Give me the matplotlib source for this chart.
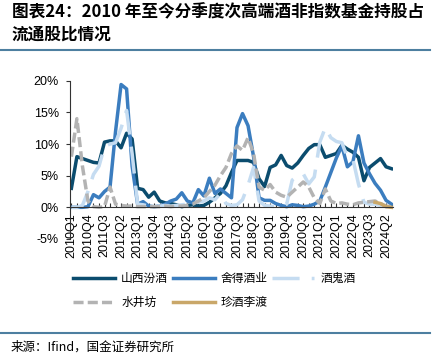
import numpy as np
import matplotlib.pyplot as plt
from matplotlib.lines import Line2D

# quarters 2010Q1 .. 2024Q3
quarters = [f"{y}Q{q}" for y in range(2010, 2025) for q in range(1, 5)][:59]

# fund holdings as % of free float
fenjiu = [3.0, 8.0, 7.7, 7.4, 7.1, 7.0, 10.3, 10.5, 10.5, 9.4, 11.7, 10.8,
          3.0, 2.8, 1.6, 2.4, 1.0, 0.7, 0.6, 0.4, 0.1, 0.3, 0.4, 0.2,
          0.3, 0.8, 1.5, 2.2, 3.4, 5.5, 7.4, 7.4, 7.4, 7.1, 4.5, 3.3,
          6.3, 6.7, 8.2, 6.6, 6.2, 7.0, 8.2, 9.3, 9.9, 9.9, 7.9, 8.2,
          8.5, 9.8, 9.2, 8.7, 7.9, 4.2, 6.3, 7.0, 7.7, 6.4, 6.1]
shede = [0.0, 0.0, 0.0, 0.1, 2.0, 1.5, 2.5, 3.2, 12.0, 19.4, 18.7, 6.5,
         0.5, 0.9, 0.2, 0.1, 0.2, 0.5, 1.0, 1.3, 2.3, 1.0, 0.7, 2.8,
         1.8, 4.6, 2.2, 2.9, 2.2, 1.5, 12.6, 14.8, 12.9, 8.0, 1.5, 1.1,
         1.1, 0.6, 0.3, 0.1, 0.4, 0.3, 0.1, 0.2, 0.5, 1.0, 3.2, 5.5,
         7.8, 9.7, 6.4, 7.2, 11.3, 7.0, 5.3, 3.8, 2.7, 1.1, 0.5]
jiugui = [0.0, 0.0, 0.3, 2.5, 5.2, 6.5, 9.6, 10.0, 10.2, 12.5, 15.3, 8.5,
          0.5, 0.4, 0.2, 0.1, 0.2, 0.3, 0.2, 0.3, 0.4, 0.5, 1.2, 0.8,
          1.0, 1.5, 1.2, 2.2, 0.6, 0.3, 0.4, 1.2, 3.5, 6.3, 1.0, 0.3,
          0.2, 0.1, 0.3, 0.5, 4.3, 5.0, 5.3, 3.7, 4.8, 10.3, 12.6, 11.0,
          10.4, 10.2, 7.9, 7.6, 3.7, 0.8, 0.5, 0.5, 0.3, 0.1, 0.0]
shuijing = [8.0, 14.0, 6.5, 1.0, 0.1, 0.0, 0.1, 3.2, 0.5, 0.3, 0.2, 0.2,
            0.1, 0.1, 0.1, 0.1, 0.1, 0.2, 0.1, 0.2, 0.2, 0.3, 0.5, 1.0,
            1.5, 2.5, 3.5, 5.0, 6.3, 8.5, 9.7, 9.0, 11.0, 8.5, 3.2, 2.7,
            3.6, 2.4, 1.9, 1.6, 2.4, 3.2, 4.0, 3.2, 1.5, 0.6, 2.9, 1.0,
            0.6, 0.7, 0.5, 0.4, 0.7, 0.8, 0.9, 1.0, 0.6, 0.2, 0.1]
zhenjiu = [np.nan] * 55 + [0.8, 0.6, 0.1, 0.0]

names = ['山西汾酒', '舍得酒业', '酒鬼酒', '水井坊', '珍酒李渡']

cjk = ['Noto Sans CJK SC', 'DejaVu Sans']
plt.rcParams['font.family'] = ['Liberation Sans', 'Noto Sans CJK SC']

fig = plt.figure(figsize=(4.37, 3.56), dpi=100)
ax = fig.add_axes([0.1602, 0.3287, 0.739, 0.4446])

# spine position first, it resets the ticks
for s in ['top', 'right']:
    ax.spines[s].set_visible(False)
ax.spines['bottom'].set_position(('data', 0))
ax.spines['bottom'].set_color('#333333')
ax.spines['left'].set_color('#333333')

x = np.arange(len(quarters))
lw = 2.5
l1, = ax.plot(x, fenjiu, color='#0b4c6e', lw=lw)
l2, = ax.plot(x, shede, color='#3b7dbf', lw=lw)
l3, = ax.plot(x, jiugui, color='#c5dcf1', lw=lw, linestyle=(0, (7.8, 3.5)))
l4, = ax.plot(x, shuijing, color='#b3b3b3', lw=lw, linestyle=(0, (2.9, 1.2)))
l5, = ax.plot(x, zhenjiu, color='#c9a769', lw=lw)

ax.set_xlim(-0.25, 58.25)
ax.set_ylim(-5, 20)
ax.set_yticks([-5, 0, 5, 10, 15, 20])
ax.set_yticklabels(['-5%', '0%', '5%', '10%', '15%', '20%'], fontsize=9)
ax.set_xticks(x)
ax.set_xticklabels([q if i % 3 == 0 else '' for i, q in enumerate(quarters)],
                   rotation=90, fontsize=9)
ax.tick_params(axis='y', direction='out', length=3, pad=5, color='#333333')
ax.tick_params(axis='x', direction='in', length=3, pad=4, color='#333333')

handles = [l1, l4, l2, l5, l3]
labels = [names[0], names[3], names[1], names[4], names[2]]
leg = fig.legend(handles, labels, loc='upper left', ncol=3,
                 bbox_to_anchor=(0.168, 0.236), frameon=False,
                 prop={'family': cjk, 'size': 8.5}, handlelength=3.55,
                 handletextpad=0.5, columnspacing=0.4, labelspacing=0.95,
                 borderpad=0, borderaxespad=0)

# title, rules and source
fig.text(0.027, 0.966, '图表24：2010 年至今分季度次高端酒非指数基金持股占',
         fontsize=12, fontweight='bold', family=cjk, va='center')
fig.text(0.027, 0.902, '流通股比情况', fontsize=12, fontweight='bold',
         family=cjk, va='center')
fig.add_artist(Line2D([0, 0.984], [0.860, 0.860], color='#4d7fa0', lw=1.5))
fig.add_artist(Line2D([0, 0.984], [0.0646, 0.0646], color='#4d7fa0', lw=1.5))
fig.text(0.023, 0.025, '来源：Ifind，国金证券研究所', fontsize=9,
         family=cjk, va='center')

plt.savefig('out.png', dpi=100)
plt.close()
